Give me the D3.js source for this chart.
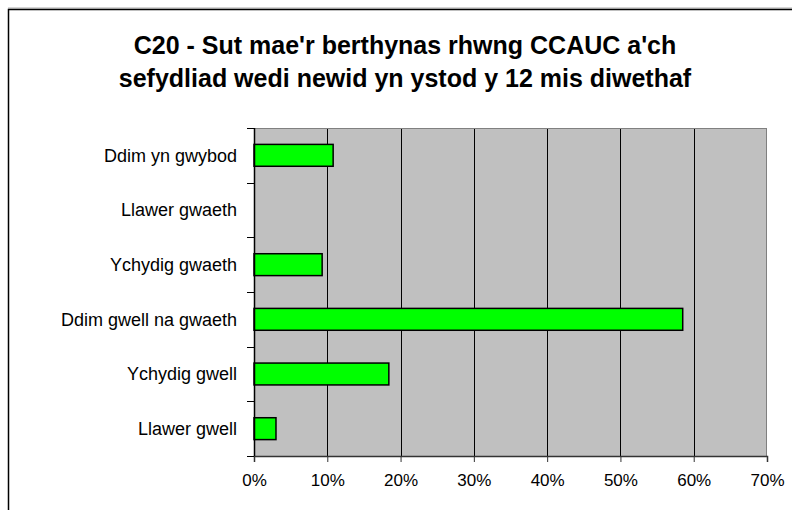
<!DOCTYPE html>
<html>
<head>
<meta charset="utf-8">
<script src="https://cdn.jsdelivr.net/npm/d3@7"></script>
<style>
  body { margin: 0; background: #fff; }
  svg { font-family: Arial, "Liberation Sans", sans-serif; }
</style>
</head>
<body>
<div id="chart"></div>
<script>
let categories = ["Ddim yn gwybod", "Llawer gwaeth", "Ychydig gwaeth", "Ddim gwell na gwaeth", "Ychydig gwell", "Llawer gwell"];
let values = [10.8, 0, 9.3, 58.5, 18.4, 3.0];
let tickValues = [0, 10, 20, 30, 40, 50, 60, 70];
let titleLines = ["C20 - Sut mae'r berthynas rhwng CCAUC a'ch", "sefydliad wedi newid yn ystod y 12 mis diwethaf"];

let W = 792, H = 510;
let margin = { top: 128, right: 25, bottom: 54, left: 254 };

let svg = d3.select("#chart").append("svg")
  .attr("width", W)
  .attr("height", H);

// chart frame
svg.append("line")
  .attr("x1", 8).attr("x2", W).attr("y1", 8).attr("y2", 8)
  .attr("stroke", "#aaa").attr("stroke-width", 1);
svg.append("rect")
  .attr("x", 8.5).attr("y", 9.5)
  .attr("width", W + 10).attr("height", H + 10)
  .attr("fill", "none").attr("stroke", "#000").attr("stroke-width", 1.5);

// title
svg.append("g").selectAll("text")
  .data(titleLines)
  .enter().append("text")
  .attr("x", 405)
  .attr("y", (d, i) => 54 + i * 33)
  .attr("text-anchor", "middle")
  .style("font-size", "25px")
  .style("font-weight", "bold")
  .text(d => d);

let iw = W - margin.left - margin.right,
  ih = H - margin.top - margin.bottom;

let x = d3.scaleLinear().domain([0, 70]).range([0, iw]);
let y = d3.scaleBand().domain(categories).range([0, ih]).paddingInner(0.6).paddingOuter(0.3);

let g = svg.append("g")
  .attr("transform", "translate(" + margin.left + "," + margin.top + ")");

g.append("rect")
  .attr("width", iw).attr("height", ih)
  .attr("fill", "#c0c0c0");

// vertical grid
g.selectAll(".grid")
  .data(tickValues.slice(1, -1))
  .enter().append("line")
  .attr("class", "grid")
  .attr("x1", d => Math.round(x(d)) + 0.5)
  .attr("x2", d => Math.round(x(d)) + 0.5)
  .attr("y1", 0).attr("y2", ih)
  .attr("stroke", "#000").attr("stroke-width", 1);

// plot border top/right
g.append("line").attr("x1", 0).attr("x2", iw).attr("y1", 0.5).attr("y2", 0.5)
  .attr("stroke", "#808080");
g.append("line").attr("x1", iw - 0.5).attr("x2", iw - 0.5).attr("y1", 0).attr("y2", ih)
  .attr("stroke", "#808080");

// bars
g.selectAll(".bar")
  .data(values)
  .enter().append("rect")
  .attr("class", "bar")
  .attr("x", 0)
  .attr("y", (d, i) => y(categories[i]))
  .attr("width", d => x(d))
  .attr("height", y.bandwidth())
  .attr("fill", d => d > 0 ? "#00ff00" : "none")
  .attr("stroke", d => d > 0 ? "#000" : "none")
  .attr("stroke-width", 1.5);

// x axis
let xAxis = d3.axisBottom(x)
  .tickValues(tickValues)
  .tickSize(6)
  .tickFormat(d => d + "%");

let xg = g.append("g")
  .attr("transform", "translate(0," + ih + ")")
  .call(xAxis);
xg.select(".domain").attr("stroke", "#333").attr("stroke-width", 1.5);
xg.selectAll(".tick line").attr("stroke", "#333");
xg.selectAll(".tick text")
  .attr("y", 18)
  .attr("dy", "0.71em")
  .style("font-size", "17px")
  .style("font-family", "Arial, 'Liberation Sans', sans-serif")
  .attr("fill", "#000");

// y axis: ticks between categories
let bandStep = ih / categories.length;
let yTicks = d3.range(0, categories.length + 1).map(i => i * bandStep);
g.append("line")
  .attr("x1", 0.5).attr("x2", 0.5).attr("y1", 0).attr("y2", ih)
  .attr("stroke", "#000").attr("stroke-width", 1.5);
g.selectAll(".ytick")
  .data(yTicks)
  .enter().append("line")
  .attr("class", "ytick")
  .attr("x1", -7).attr("x2", 0)
  .attr("y1", d => Math.round(d) + 0.5).attr("y2", d => Math.round(d) + 0.5)
  .attr("stroke", "#000");

g.selectAll(".ylabel")
  .data(categories)
  .enter().append("text")
  .attr("class", "ylabel")
  .attr("x", -17)
  .attr("y", d => y(d) + y.bandwidth() / 2)
  .attr("dy", "0.35em")
  .attr("text-anchor", "end")
  .style("font-size", "18px")
  .text(d => d);
</script>
</body>
</html>
